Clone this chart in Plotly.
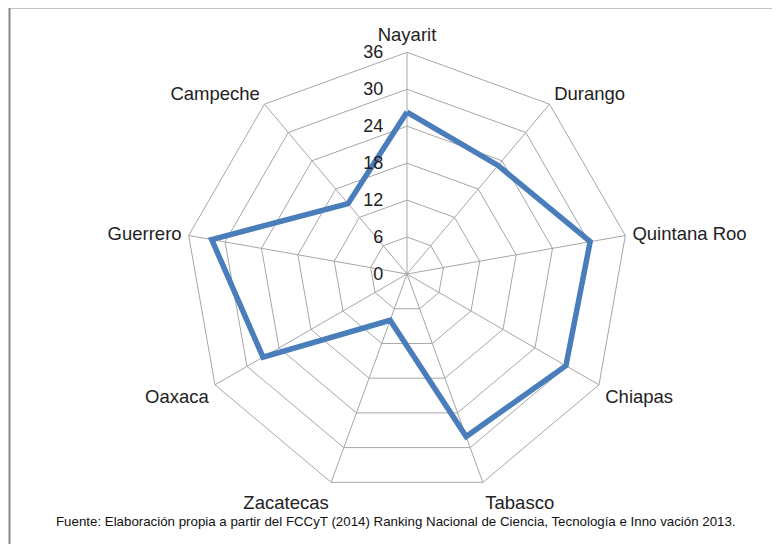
import plotly.graph_objects as go

categories = ["Nayarit", "Durango", "Quintana Roo", "Chiapas", "Tabasco",
              "Zacatecas", "Oaxaca", "Guerrero", "Campeche"]
values = [26.3, 23, 30.2, 29.8, 28.1, 8, 27, 32.2, 14.9]
radial_ticks = [0, 6, 12, 18, 24, 30, 36]
source_note = ("Fuente: Elaboración propia a partir del FCCyT (2014) Ranking Nacional de Ciencia, "
               "Tecnología e Inno vación 2013.")

W, H = 780, 544
OFF = 8  # default body margin of the page
cx, cy, R = 407 - OFF, 274 - OFF, 221.7

fig = go.Figure()
fig.add_trace(go.Scatterpolar(
    r=values + values[:1],
    theta=categories + categories[:1],
    mode="lines",
    line=dict(color="#4A7EBB", width=5.5),
    hoverinfo="skip",
    showlegend=False,
))

fig.update_layout(
    width=W, height=H,
    margin=dict(l=0, r=0, t=0, b=0),
    paper_bgcolor="white",
    font=dict(family="Liberation Sans, Arial, sans-serif", color="#222222"),
    polar=dict(
        domain=dict(x=[(cx - R) / W, (cx + R) / W], y=[(H - cy - R) / H, (H - cy + R) / H]),
        bgcolor="white",
        gridshape="linear",
        angularaxis=dict(
            direction="clockwise", rotation=90,
            categoryorder="array", categoryarray=categories,
            showline=True, linecolor="#A6A6A6", linewidth=1,
            gridcolor="#A6A6A6", gridwidth=1,
            ticks="outside", ticklen=3, tickcolor="rgba(0,0,0,0)",
            tickfont=dict(size=18.5, color="#222222"),
        ),
        radialaxis=dict(
            range=[0, 36], tickvals=radial_ticks, ticktext=[str(v) for v in radial_ticks],
            angle=90, side="counterclockwise", tickangle=90,
            showline=False, gridcolor="#A6A6A6", gridwidth=1,
            ticks="outside", ticklen=17, tickcolor="rgba(0,0,0,0)",
            tickfont=dict(size=18, color="#222222"),
        ),
    ),
    shapes=[
        dict(type="line", xref="paper", yref="paper", x0=(9.5 - OFF) / W, x1=1.01,
             y0=1 - (7.5 - OFF) / H, y1=1 - (7.5 - OFF) / H,
             line=dict(color="#878787", width=2)),
        dict(type="line", xref="paper", yref="paper", x0=(9.5 - OFF) / W, x1=(9.5 - OFF) / W,
             y0=-0.01, y1=1 - (7.5 - OFF) / H,
             line=dict(color="#878787", width=2)),
    ],
    annotations=[
        dict(text=source_note, xref="paper", yref="paper", x=(396 - OFF) / W, y=1 - (521 - OFF) / H,
             showarrow=False, xanchor="center", yanchor="middle",
             font=dict(size=13.3, color="#111111", family="Liberation Sans, Arial")),
    ],
)

fig.write_html("out.html")
